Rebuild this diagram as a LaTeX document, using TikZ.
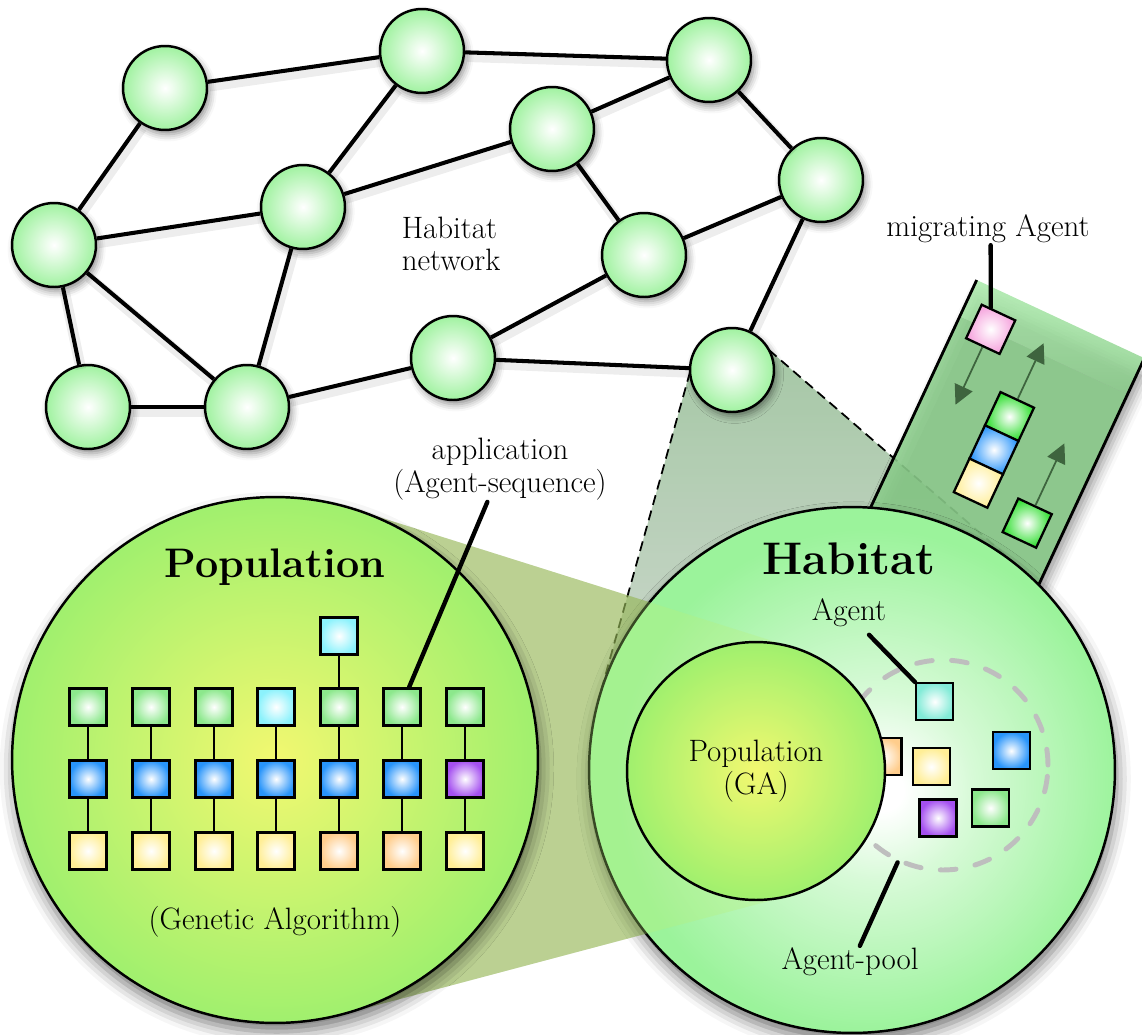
\documentclass[tikz,border=0pt]{standalone}
\usepackage{amsmath,amsfonts,amssymb}
\usepackage{xcolor}
\usepackage{fontspec}
\usepackage{tikz}
\usetikzlibrary{arrows.meta,calc,shadows.blur}

\definecolor{NetGreen}{RGB}{160,242,160}
\definecolor{HabGreen}{RGB}{155,243,155}
\definecolor{HabLight}{RGB}{215,250,215}
\definecolor{PopYellow}{RGB}{242,248,112}
\definecolor{PopGreen}{RGB}{160,240,110}
\definecolor{AgGreen}{RGB}{140,232,140}
\definecolor{AgCyan}{RGB}{140,242,252}
\definecolor{AgBlue}{RGB}{40,148,250}
\definecolor{AgPurple}{RGB}{165,80,240}
\definecolor{AgYellow}{RGB}{255,238,150}
\definecolor{AgOrange}{RGB}{255,205,140}
\definecolor{AgPink}{RGB}{245,160,220}
\definecolor{AgLime}{RGB}{45,222,45}
\definecolor{AgAqua}{RGB}{130,235,215}
\definecolor{StripGreen}{RGB}{140,206,140}
\definecolor{StripLight}{RGB}{172,234,172}
\definecolor{ConeGray}{RGB}{150,190,150}
\definecolor{ConeLight}{RGB}{205,212,205}
\definecolor{ConeOlive}{RGB}{120,135,60}
\definecolor{ConeLime}{RGB}{185,240,120}
\definecolor{PoolGray}{RGB}{190,190,190}
\definecolor{ArrowGreen}{RGB}{62,100,62}

\pgfdeclareradialshading{habitatshade}{\pgfpoint{3bp}{-2bp}}{color(0bp)=(white); color(2bp)=(white); color(9bp)=(HabLight); color(24bp)=(HabGreen); color(50bp)=(HabGreen)}

\tikzset{
    softshadow/.style={blur shadow={shadow xshift=1.5pt, shadow yshift=-2.5pt, shadow blur radius=4pt, shadow opacity=45}},
    bigshadow/.style={blur shadow={shadow xshift=1pt, shadow yshift=-5pt, shadow blur radius=8pt, shadow opacity=55}},
    netnode/.style={circle, draw, line width=1.4pt, minimum size=1.68cm, inner sep=0pt, inner color=white, outer color=NetGreen, softshadow},
    world/.style={circle, draw, line width=1.4pt, inner sep=0pt},
    link/.style={line width=2.3pt, preaction={draw=black, draw opacity=0.07, line width=6pt, transform canvas={shift={(1pt,-2.5pt)}}}},
    agent/.style={draw, line width=1.3pt, minimum size=0.74cm, inner sep=0pt, inner color=white, outer color=#1},
    gene/.style={line width=1.3pt},
    border/.style={line width=1.6pt},
    pointer/.style={line width=2.5pt, line cap=round},
    zoomline/.style={line width=1pt, dash pattern=on 5.7pt off 3.4pt},
    pool/.style={circle, draw=PoolGray, line width=2.8pt, line cap=round, dash pattern=on 9pt off 11pt, minimum size=4.2cm},
    flow/.style={draw=ArrowGreen, line width=1pt, -{Triangle[length=11pt, width=11pt]}},
    lbl/.style={font=\fontsize{17.6}{18.5}\selectfont, inner sep=1pt, align=center},
    heading/.style={font=\fontsize{#1}{#1}\selectfont\bfseries, inner sep=0pt}
}

\begin{document}
\begin{tikzpicture}[x=0.02cm, y=-0.02cm]
        \useasboundingbox (0,0) rectangle (1142,1034);

        \coordinate (Zoom-A) at (690,372);
        \coordinate (Zoom-B) at (769,350);
        \coordinate (Zoom-C) at (1025.6,572.5);
        \coordinate (Zoom-D) at (598.3,700.6);
        \coordinate (Habitat-Centre) at (852,770);
        \shade[top color=ConeGray, bottom color=ConeLight, fill opacity=0.85] (Zoom-A) -- (Zoom-B) -- (Zoom-C) -- (Habitat-Centre) -- (Zoom-D) -- cycle;
        \draw[zoomline] (Zoom-A) -- (Zoom-D);
        \draw[zoomline] (Zoom-B) -- (Zoom-C);

        \node[netnode] (Node-1) at (165,88) {};
        \node[netnode] (Node-2) at (422,51) {};
        \node[netnode] (Node-3) at (709,60) {};
        \node[netnode] (Node-4) at (552,129) {};
        \node[netnode] (Node-5) at (821,180) {};
        \node[netnode] (Node-6) at (303,207) {};
        \node[netnode] (Node-7) at (54,245) {};
        \node[netnode] (Node-8) at (644,255) {};
        \node[netnode] (Node-9) at (453,358) {};
        \node[netnode] (Node-10) at (732,370) {};
        \node[netnode] (Node-11) at (88,407) {};
        \node[netnode] (Node-12) at (247,407) {};

        \draw[link] (Node-1) -- (Node-2);
        \draw[link] (Node-2) -- (Node-3);
        \draw[link] (Node-1) -- (Node-7);
        \draw[link] (Node-2) -- (Node-6);
        \draw[link] (Node-6) -- (Node-4);
        \draw[link] (Node-4) -- (Node-3);
        \draw[link] (Node-3) -- (Node-5);
        \draw[link] (Node-4) -- (Node-8);
        \draw[link] (Node-8) -- (Node-5);
        \draw[link] (Node-7) -- (Node-6);
        \draw[link] (Node-6) -- (Node-12);
        \draw[link] (Node-7) -- (Node-11);
        \draw[link] (Node-7) -- (Node-12);
        \draw[link] (Node-11) -- (Node-12);
        \draw[link] (Node-12) -- (Node-9);
        \draw[link] (Node-9) -- (Node-8);
        \draw[link] (Node-9) -- (Node-10);
        \draw[link] (Node-10) -- (Node-5);

        \begin{scope}[shift={(976.7,280)}, rotate=-25]
            \path[blur shadow={shadow xshift=3pt, shadow yshift=-3pt, shadow blur radius=6pt, shadow opacity=40}] (0,12) -- (185,12) -- (185,330) -- (0,330) -- cycle;
            \fill[StripGreen, fill opacity=0.88] (0,40) -- (185,40) -- (185,330) -- (0,330) -- cycle;
            \shade[top color=StripLight, bottom color=StripGreen, fill opacity=0.88] (0,0) -- (185,0) -- (185,40) -- (0,40) -- cycle;
            \draw[border] (0,0) -- (0,330);
            \draw[border] (185,0) -- (185,330);
            \node[agent=AgPink, rotate=-25] (Migrant-Agent) at (33.5,38.8) {};
            \node[agent=AgLime, rotate=-25] (Stack-1) at (87.4,110) {};
            \node[agent=AgBlue, rotate=-25] (Stack-2) at (87.4,146.7) {};
            \node[agent=AgYellow, rotate=-25] (Stack-3) at (87.4,183.4) {};
            \node[agent=AgLime, rotate=-25] (Single-Agent) at (148.5,199) {};
            \coordinate (Arrive) at (33.5,122);
            \coordinate (Leave-1) at (87.4,29);
            \coordinate (Leave-2) at (148.5,111);
            \draw[flow] (Migrant-Agent.south) -- (Arrive);
            \draw[flow] (Stack-1.north) -- (Leave-1);
            \draw[flow] (Single-Agent.north) -- (Leave-2);
        \end{scope}

        \coordinate (Cone-A) at (354.1,509.2);
        \coordinate (Cone-B) at (794.8,648);
        \coordinate (Cone-C) at (789.2,895.7);
        \coordinate (Cone-D) at (342.6,1014.2);
        \coordinate (Population-Centre) at (275,760);
        \coordinate (Inner-Centre) at (756,771);
        \fill[ConeOlive, fill opacity=0.5] (Cone-A) -- (Cone-B) -- (Inner-Centre) -- (Cone-C) -- (Cone-D) -- (Population-Centre) -- cycle;

        \node[world, shade, shading=habitatshade, bigshadow, minimum size=10.52cm] (Habitat) at (Habitat-Centre) {};
        \node[pool] (Agent-Pool) at (943,765) {};
        \node[agent=AgAqua] (Agent-1) at (934.7,701.7) {};
        \node[agent=AgOrange] (Agent-2) at (883,756.7) {};
        \node[agent=AgYellow] (Agent-3) at (931.3,766.7) {};
        \node[agent=AgBlue] (Agent-4) at (1011.2,750.8) {};
        \node[agent=AgPurple] (Agent-5) at (938,818) {};
        \node[agent=AgGreen] (Agent-6) at (990.5,808) {};

        \fill[ConeLime, fill opacity=0.3] (Cone-A) -- (Cone-B) -- (Inner-Centre) -- (Cone-C) -- (Cone-D) -- (Population-Centre) -- cycle;

        \node[world, inner color=PopYellow, outer color=PopGreen, lbl, minimum size=5.16cm] (Population-GA) at (Inner-Centre) {Population\\(GA)};
        \node[world, inner color=PopYellow, outer color=PopGreen, bigshadow, minimum size=10.52cm] (Population) at (Population-Centre) {};

        \node[agent=AgCyan] (Cell-5-0) at (339,636) {};
        \node[agent=AgGreen] (Cell-1-1) at (88,707) {};
        \node[agent=AgGreen] (Cell-2-1) at (151,707) {};
        \node[agent=AgGreen] (Cell-3-1) at (214,707) {};
        \node[agent=AgCyan] (Cell-4-1) at (276,707) {};
        \node[agent=AgGreen] (Cell-5-1) at (339,707) {};
        \node[agent=AgGreen] (Cell-6-1) at (402,707) {};
        \node[agent=AgGreen] (Cell-7-1) at (465,707) {};
        \node[agent=AgBlue] (Cell-1-2) at (88,779) {};
        \node[agent=AgBlue] (Cell-2-2) at (151,779) {};
        \node[agent=AgBlue] (Cell-3-2) at (214,779) {};
        \node[agent=AgBlue] (Cell-4-2) at (276,779) {};
        \node[agent=AgBlue] (Cell-5-2) at (339,779) {};
        \node[agent=AgBlue] (Cell-6-2) at (402,779) {};
        \node[agent=AgPurple] (Cell-7-2) at (465,779) {};
        \node[agent=AgYellow] (Cell-1-3) at (88,851) {};
        \node[agent=AgYellow] (Cell-2-3) at (151,851) {};
        \node[agent=AgYellow] (Cell-3-3) at (214,851) {};
        \node[agent=AgYellow] (Cell-4-3) at (276,851) {};
        \node[agent=AgOrange] (Cell-5-3) at (339,851) {};
        \node[agent=AgOrange] (Cell-6-3) at (402,851) {};
        \node[agent=AgYellow] (Cell-7-3) at (465,851) {};

        \draw[gene] (Cell-5-0) -- (Cell-5-1);
        \draw[gene] (Cell-1-1) -- (Cell-1-2) -- (Cell-1-3);
        \draw[gene] (Cell-2-1) -- (Cell-2-2) -- (Cell-2-3);
        \draw[gene] (Cell-3-1) -- (Cell-3-2) -- (Cell-3-3);
        \draw[gene] (Cell-4-1) -- (Cell-4-2) -- (Cell-4-3);
        \draw[gene] (Cell-5-1) -- (Cell-5-2) -- (Cell-5-3);
        \draw[gene] (Cell-6-1) -- (Cell-6-2) -- (Cell-6-3);
        \draw[gene] (Cell-7-1) -- (Cell-7-2) -- (Cell-7-3);

        \node[heading=23.5] (Population-Title) at (275,567) {Population};
        \node[heading=26] (Habitat-Title) at (849,559) {Habitat};
        \node[lbl] (Genetic-Label) at (275,922) {(Genetic Algorithm)};
        \node[lbl, align=left] (Net-Label) at (451,244) {Habitat\\network};
        \node[lbl] (App-Label) at (500,469) {application\\(Agent-sequence)};
        \node[lbl] (Migrant-Label) at (988,229) {migrating Agent};
        \node[lbl] (Agent-Label) at (849,613) {Agent};
        \node[lbl] (Pool-Label) at (850,962) {Agent-pool};

        \draw[pointer] ([xshift=-7.2pt]App-Label.south) -- ([xshift=4pt]Cell-6-1.north);
        \draw[pointer] (Migrant-Label.south -| Migrant-Agent.center) -- ($(Migrant-Agent.north west)!0.27!(Migrant-Agent.north east)$);
        \draw[pointer] ([shift={(11.4pt,-3.2pt)}]Agent-Label.south) -- (Agent-1.north west);
        \draw[pointer] (Agent-Pool.245) -- ([xshift=5.6pt]Pool-Label.north);
\end{tikzpicture}
\end{document}
